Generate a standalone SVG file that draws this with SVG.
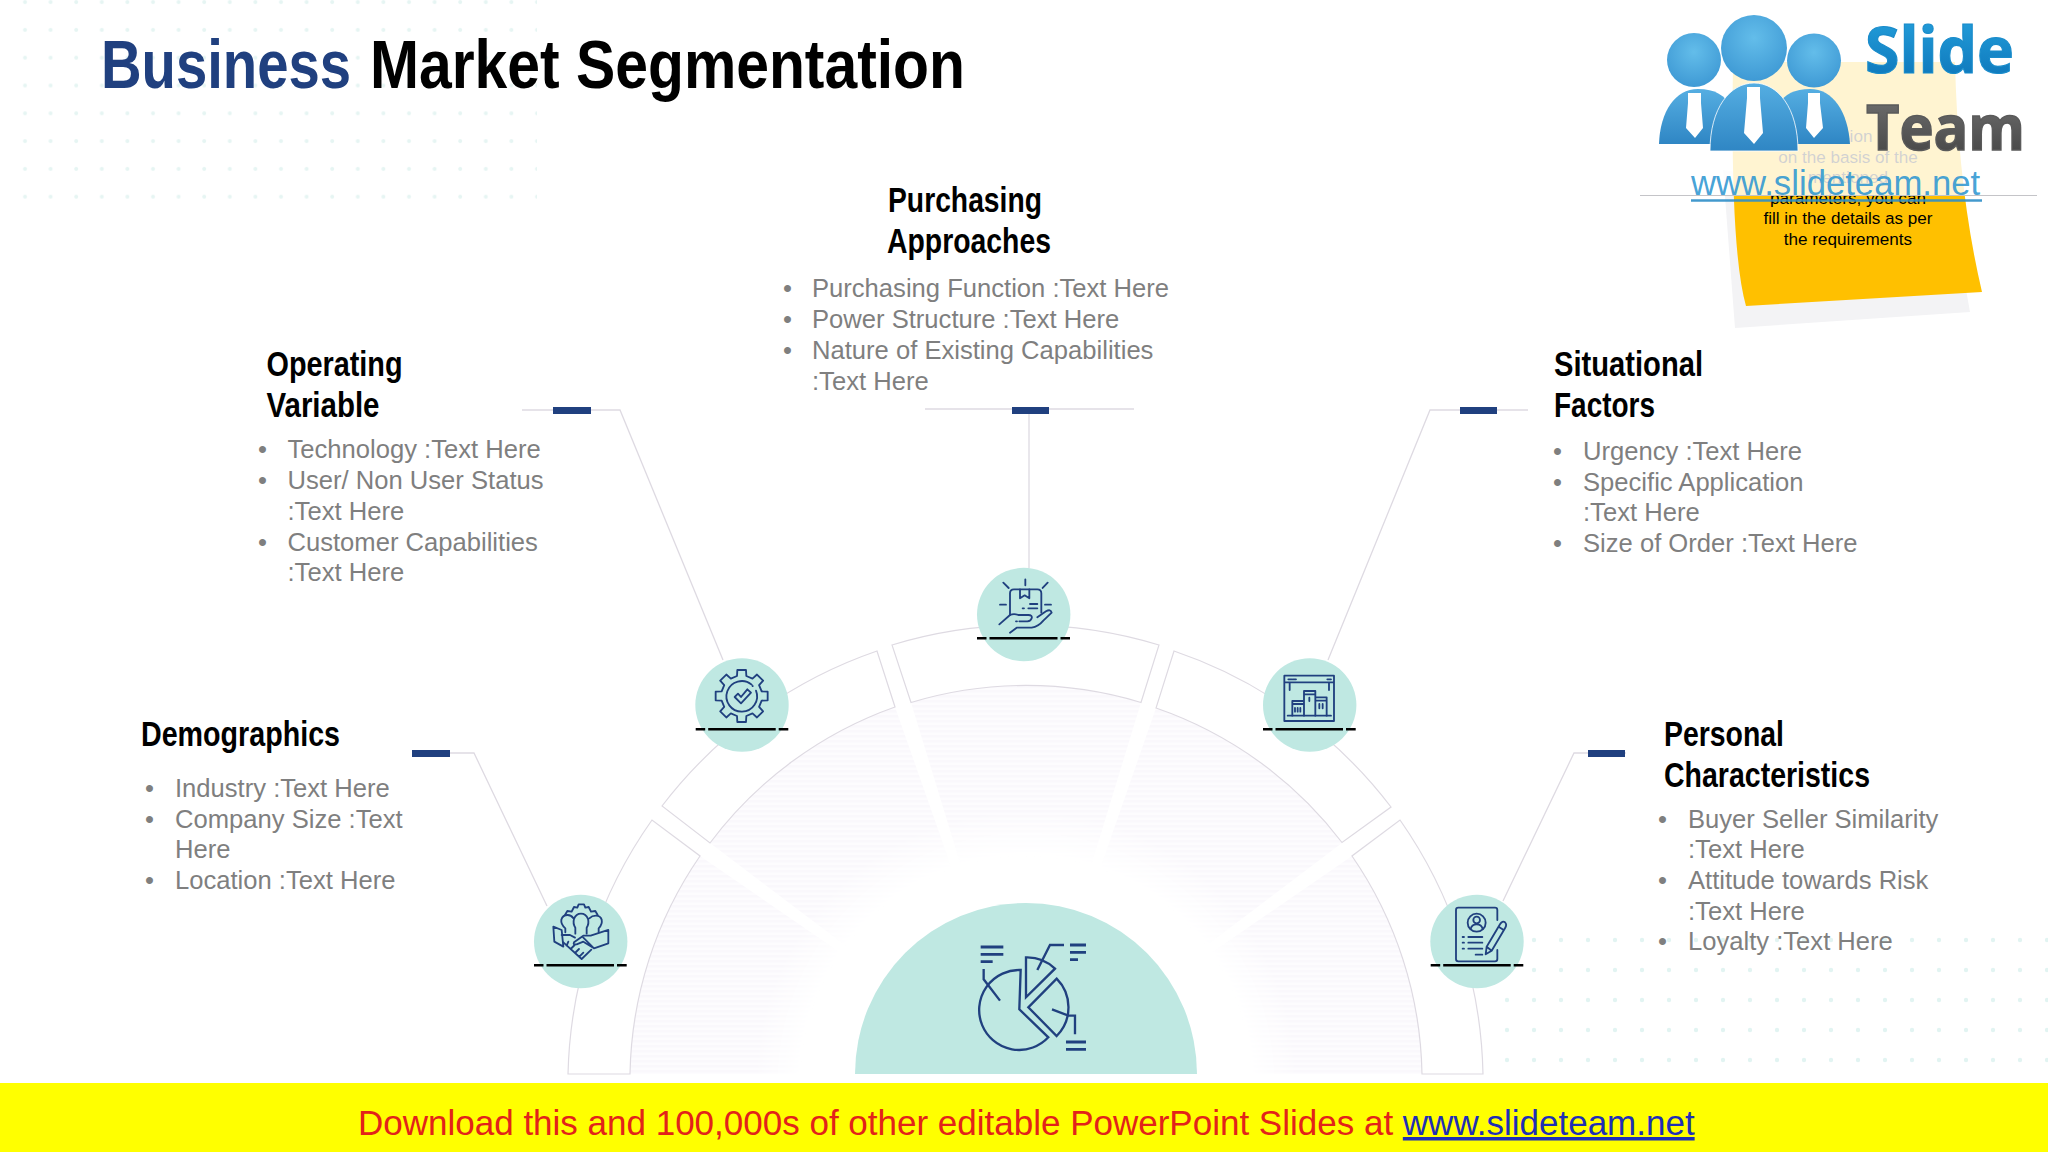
<svg xmlns="http://www.w3.org/2000/svg" width="2048" height="1152" viewBox="0 0 2048 1152">
<style>
.h{font-family:"Liberation Sans",Arial,sans-serif;font-weight:700;font-size:35px;fill:#000}
.b{font-family:"Liberation Sans",Arial,sans-serif;font-size:25.6px;fill:#7f7f7f}
.seg{fill:#fff;stroke:#dedae2;stroke-width:1.2}
.wedge{fill:url(#stripes)}
.conn{fill:none;stroke:#dedae2;stroke-width:1.3}
.bar{fill:#20407f}
.disc{fill:#bfe8e2}
.dash{stroke:#000;stroke-width:2.4;fill:none}
.ic{fill:none;stroke:#20407f;stroke-width:5.5;stroke-linecap:round;stroke-linejoin:round}
.ic2{fill:none;stroke:#20407f;stroke-width:7;stroke-linejoin:miter}
.ic3{fill:none;stroke:#20407f;stroke-width:8.5}
.note{font-family:"Liberation Sans",Arial,sans-serif;font-size:17.1px;fill:#000;text-anchor:middle}
.t{font-family:"Liberation Sans",Arial,sans-serif;font-weight:700;font-size:68px}
</style>
<defs>
<pattern id="dotsA" width="25.6" height="27.8" patternUnits="userSpaceOnUse" x="12" y="16"><circle cx="13" cy="14" r="2" fill="#e6f5f3"/></pattern>
<pattern id="dotsB" width="27" height="30" patternUnits="userSpaceOnUse" x="1520" y="925"><circle cx="14" cy="15" r="2.2" fill="#e2f4f2"/></pattern>
<pattern id="stripes" width="6" height="5" patternUnits="userSpaceOnUse"><rect width="6" height="5" fill="#fdfcfe"/><rect width="6" height="2.5" fill="#faf8fc"/></pattern>
<radialGradient id="fade" gradientUnits="userSpaceOnUse" cx="1026" cy="1081" r="400"><stop offset=".56" stop-color="#000"/><stop offset=".68" stop-color="#fff"/></radialGradient>
<mask id="fadeM" maskUnits="userSpaceOnUse" x="500" y="600" width="1050" height="500"><rect x="500" y="600" width="1050" height="500" fill="url(#fade)"/></mask>
<radialGradient id="ball" cx=".5" cy=".35" r=".7"><stop offset="0" stop-color="#63bdea"/><stop offset="1" stop-color="#3c97d3"/></radialGradient>
<linearGradient id="body" x1="0" y1="0" x2="0" y2="1"><stop offset="0" stop-color="#55aee2"/><stop offset="1" stop-color="#2f86c4"/></linearGradient>
<linearGradient id="slide" x1="0" y1="0" x2="0" y2="1"><stop offset="0" stop-color="#27a5e0"/><stop offset="1" stop-color="#0a70b5"/></linearGradient>
<linearGradient id="team" x1="0" y1="0" x2="0" y2="1"><stop offset="0" stop-color="#777"/><stop offset="1" stop-color="#3f3f3f"/></linearGradient>
</defs>
<rect width="2048" height="1152" fill="#fff"/>
<g id="background-dots">
<rect x="12" y="0" width="525" height="205" fill="url(#dotsA)"/>
<rect x="1520" y="925" width="528" height="150" fill="url(#dotsB)"/>
<rect x="1493" y="985" width="27" height="90" fill="url(#dotsB)"/>
</g>

<g id="title">
<text class="t" x="101" y="88" fill="#20407f" textLength="250" lengthAdjust="spacingAndGlyphs">Business</text>
<text class="t" x="370" y="88" fill="#000" textLength="595" lengthAdjust="spacingAndGlyphs">Market Segmentation</text>
</g>

<g id="hub-stripes" mask="url(#fadeM)">
<path class="wedge" d="M630 1074A396 396 0 0 1 700 856L841 953A225 225 0 0 0 801 1074Z"/>
<path class="wedge" d="M710 843A396 396 0 0 1 895 707L952 869A225 225 0 0 0 846 946Z"/>
<path class="wedge" d="M911 702.5A396 396 0 0 1 1141 702.5L1091 866A225 225 0 0 0 961 866Z"/>
<path class="wedge" d="M1156 708A396 396 0 0 1 1342 843L1206 946A225 225 0 0 0 1100 869Z"/>
<path class="wedge" d="M1352 856A396 396 0 0 1 1422 1074L1251 1074A225 225 0 0 0 1211 953Z"/>
</g>
<g id="ring">
<path class="seg" d="M568 1074A458 458 0 0 1 652 820L700 856A396 396 0 0 0 630 1074Z"/>
<path class="seg" d="M662 806A458 458 0 0 1 877 651L895 707A396 396 0 0 0 710 843Z"/>
<path class="seg" d="M892 645A458 458 0 0 1 1159 645L1141 702.5A396 396 0 0 0 911 702.5Z"/>
<path class="seg" d="M1174 651A458 458 0 0 1 1391 807L1342 842.5A396 396 0 0 0 1156 708Z"/>
<path class="seg" d="M1400 820A458 458 0 0 1 1483 1074L1422 1074A396 396 0 0 0 1352 856Z"/>
</g>

<g id="connectors">
<path class="conn" d="M522 410H620L723 660"/>
<path class="conn" d="M412 753H474L547 906"/>
<path class="conn" d="M925 409H1134M1029 409V568"/>
<path class="conn" d="M1528 410H1430L1328 660"/>
<path class="conn" d="M1626 753H1574L1503 901"/>
<rect class="bar" x="553" y="407" width="38" height="7"/>
<rect class="bar" x="412" y="750" width="38" height="7"/>
<rect class="bar" x="1012" y="407" width="37" height="7"/>
<rect class="bar" x="1460" y="407" width="37" height="7"/>
<rect class="bar" x="1588" y="750" width="37" height="7"/>
</g>

<g id="hub">
<path class="disc" d="M855 1074A171 171 0 0 1 1197 1074Z"/>
<g transform="translate(960 890) scale(.3333)">
<path class="ic3" d="M62 171H130M62 193H130M62 215H98M330 165H378M330 187H378M330 209H354M318 456H378M318 478H378"/>
<path class="ic2" d="M71 237V268L120 332M232 240L270 165H312M276 358L325 377H345V433"/>
<path class="ic2" d="M182 240A120 120 0 1 0 265 442L178 358Z"/>
<path class="ic2" d="M198 322V202A120 120 0 0 1 285 236Z"/>
<path class="ic2" d="M205 352L290 266A122 122 0 0 1 290 438Z"/>
</g>
</g>

<g id="node-demographics">
<circle class="disc" cx="580.7" cy="941.5" r="46.7"/>
<g transform="translate(520 885) scale(.3333)">
<path class="ic" d="M135 90L142 78L155 80L162 66L172 68L176 58H192L196 68L206 66L213 80L226 78L233 90"/>
<path class="ic" d="M136 142L136 130Q122 118 124 104Q128 90 143 90Q154 90 160 100M236 142V130Q248 118 245 104Q241 92 228 92Q216 92 208 100M166 146V128Q158 116 162 102Q168 86 183 86Q198 86 204 102Q208 116 200 128V146"/>
<path class="ic" d="M100 125L125 135L130 185L103 170ZM125 150H150L165 158M265 135V175L222 190L190 158M265 135L212 152H190L162 172Q158 180 170 178L190 170L222 190"/>
<path class="ic" d="M130 172L185 222L214 194M145 170L140 182M152 192L164 180M165 204L177 192M178 215L190 203"/>
</g>
<path class="dash" d="M534 965.3H626.7" stroke-dasharray="9.5 3 67.5 3 10"/>
</g>
<g id="node-operating">
<circle class="disc" cx="742" cy="705" r="46.7"/>
<g transform="translate(680 650) scale(.3333)">
<path class="ic" transform="translate(185 138)" d="M-14-60L-13-78H13L14-60L32.500-52.300L46-64.400L64.400-46L52.300-32.500L60-14L78-13V13L60 14L52.300 32.500L64.400 46L46 64.400L32.500 52.300L14 60L13 78H-13L-14 60L-32.500 52.300L-46 64.400L-64.400 46L-52.300 32.500L-60 14L-78 13V-13L-60-14L-52.300-32.500L-64.400-46L-46-64.400L-32.500-52.300Z"/>
<path class="ic" d="M215 104A46 46 0 1 0 228 122"/>
<path class="ic" d="M164 141L174 131L183 141L202 118L213 128L183 160Z"/>
<path class="ic" d="M218 108V108.500"/>
</g>
<path class="dash" d="M695.700 729.300H788.300" stroke-dasharray="9.500 3 67.500 3 10"/>
</g>
<g id="node-purchasing">
<circle class="disc" cx="1023.700" cy="614.500" r="46.700"/>
<g transform="translate(960 560) scale(.3333)">
<path class="ic" d="M150 165V100Q150 88 162 88H232Q244 88 244 100V158"/>
<path class="ic" d="M180 88V115L194 106L208 115V88M210 132H232M188 145H192M205 145H232"/>
<path class="ic" d="M130 68L146 84M196 58V76M263 68L248 84M120 134H138M255 134H273"/>
<path class="ic" d="M118 193L150 165Q162 160 175 165H205Q218 165 215 175Q212 185 200 184H178M168 184H171M150 218L170 203H215Q235 200 250 182L275 158Q272 146 258 154L232 172"/>
</g>
<path class="dash" d="M977 638.300H1070" stroke-dasharray="9.500 3 68 3 10"/>
</g>
<g id="node-situational">
<circle class="disc" cx="1309.700" cy="705" r="46.700"/>
<g transform="translate(1250 650) scale(.3333)">
<path class="ic" d="M103 77H252V213H103ZM103 97H252M115 88H125M128 88H138M232 88H243M119 97V120M237 97V120M113 197H243"/>
<path class="ic" d="M162 197V123H196V197M162 133H196M178 143V153M127 197V153H162M127 162H162M196 142H230V197M196 152H230"/>
<path class="ic" d="M135 174V185M143 174V185M151 174V185M208 162V175M218 162V175"/>
</g>
<path class="dash" d="M1263 729.300H1355.700" stroke-dasharray="9.500 3 67.500 3 10"/>
</g>
<g id="node-personal">
<circle class="disc" cx="1477" cy="941.500" r="46.700"/>
<g transform="translate(1420 885) scale(.3333)">
<path class="ic" d="M232 105V75Q232 68 225 68H115Q108 68 108 75V222Q108 229 115 229H225Q232 229 232 222V195"/>
<circle class="ic" cx="170" cy="113" r="27"/>
<circle class="ic" cx="170" cy="105" r="10"/>
<path class="ic" d="M152 132Q155 118 170 118Q185 118 188 132M128 156H132M145 156H187M128 173H132M145 173H187M128 191H132M145 191H187M167 209H187"/>
<path class="ic" d="M197 208L200 185L240 118Q247 106 255 112Q262 118 255 130L215 197ZM200 185L215 197M236 125L251 135"/>
</g>
<path class="dash" d="M1430.700 965.300H1523.300" stroke-dasharray="9.500 3 67.500 3 10"/>
</g>

<g id="text-purchasing">
<text class="h" x="888" y="211.500" textLength="154" lengthAdjust="spacingAndGlyphs">Purchasing</text>
<text class="h" x="887" y="252.500" textLength="164" lengthAdjust="spacingAndGlyphs">Approaches</text>
<text class="b"><tspan x="783" y="297">•</tspan><tspan x="812" y="297">Purchasing Function :Text Here</tspan><tspan x="783" y="328">•</tspan><tspan x="812" y="328">Power Structure :Text Here</tspan><tspan x="783" y="359">•</tspan><tspan x="812" y="359">Nature of Existing Capabilities</tspan><tspan x="812" y="390">:Text Here</tspan></text>
</g>
<g id="text-operating">
<text class="h" x="266.500" y="376" textLength="136" lengthAdjust="spacingAndGlyphs">Operating</text>
<text class="h" x="266.500" y="417" textLength="113" lengthAdjust="spacingAndGlyphs">Variable</text>
<text class="b"><tspan x="258" y="458">•</tspan><tspan x="287.500" y="458">Technology :Text Here</tspan><tspan x="258" y="489">•</tspan><tspan x="287.500" y="489">User/ Non User Status</tspan><tspan x="287.500" y="520">:Text Here</tspan><tspan x="258" y="551">•</tspan><tspan x="287.500" y="551">Customer Capabilities</tspan><tspan x="287.500" y="581">:Text Here</tspan></text>
</g>
<g id="text-situational">
<text class="h" x="1554" y="376" textLength="149" lengthAdjust="spacingAndGlyphs">Situational</text>
<text class="h" x="1554" y="417" textLength="101" lengthAdjust="spacingAndGlyphs">Factors</text>
<text class="b"><tspan x="1553" y="460">•</tspan><tspan x="1583" y="460">Urgency :Text Here</tspan><tspan x="1553" y="491">•</tspan><tspan x="1583" y="491">Specific Application</tspan><tspan x="1583" y="521">:Text Here</tspan><tspan x="1553" y="552">•</tspan><tspan x="1583" y="552">Size of Order :Text Here</tspan></text>
</g>
<g id="text-demographics">
<text class="h" x="141" y="746" textLength="199" lengthAdjust="spacingAndGlyphs">Demographics</text>
<text class="b"><tspan x="145" y="797">•</tspan><tspan x="175" y="797">Industry :Text Here</tspan><tspan x="145" y="828">•</tspan><tspan x="175" y="828">Company Size :Text</tspan><tspan x="175" y="858">Here</tspan><tspan x="145" y="889">•</tspan><tspan x="175" y="889">Location :Text Here</tspan></text>
</g>
<g id="text-personal">
<text class="h" x="1664" y="746" textLength="120" lengthAdjust="spacingAndGlyphs">Personal</text>
<text class="h" x="1664" y="787" textLength="206" lengthAdjust="spacingAndGlyphs">Characteristics</text>
<text class="b"><tspan x="1658" y="828">•</tspan><tspan x="1688" y="828">Buyer Seller Similarity</tspan><tspan x="1688" y="858">:Text Here</tspan><tspan x="1658" y="889">•</tspan><tspan x="1688" y="889">Attitude towards Risk</tspan><tspan x="1688" y="920">:Text Here</tspan><tspan x="1658" y="950">•</tspan><tspan x="1688" y="950">Loyalty :Text Here</tspan></text>
</g>

<g id="sticky-note">
<path d="M1723 170L1735 328L1970 312L1950 200Z" fill="#f3f3f5"/>
<path d="M1733 62H1955Q1958 190 1982 292L1746 306Q1730 250 1733 62Z" fill="#ffc000"/>
<text class="note"><tspan x="1861" y="142">ion</tspan><tspan x="1848" y="163">on the basis of the</tspan><tspan x="1848" y="183">mentioned</tspan><tspan x="1848" y="204">parameters, you can</tspan><tspan x="1848" y="224">fill in the details as per</tspan><tspan x="1848" y="245">the requirements</tspan></text>
</g>
<g id="logo">
<rect x="1640" y="0" width="397" height="195" fill="#fff" opacity=".82"/>
<path d="M1640 195.500H2037" stroke="#c4c4c8" stroke-width="1"/>
<circle cx="1694" cy="60" r="27" fill="url(#ball)"/>
<circle cx="1814" cy="60.500" r="27" fill="url(#ball)"/>
<path d="M1659 144C1660 112 1675 89 1698 89C1715 89 1725 95 1732 108L1732 144Z" fill="url(#body)"/>
<path d="M1850 144C1848 112 1833 89 1810 89C1793 89 1783 95 1776 108L1776 144Z" fill="url(#body)"/>
<circle cx="1754" cy="48" r="33" fill="url(#ball)"/>
<path d="M1710 151C1710 108 1730 83 1754 83C1778 83 1798 108 1798 151Z" fill="url(#body)" stroke="#fff" stroke-width=".8"/>
<path d="M1747 87H1760V98L1763 133L1754 144L1744 133L1747 98Z" fill="#fff"/>
<path d="M1688 93H1701V103L1703 128L1695 138L1686 128L1688 103Z" fill="#fff"/>
<path d="M1808 93H1820V103L1823 128L1814 138L1806 128L1808 103Z" fill="#fff"/>
<text x="1865" y="73" font-family="'Open Sans','Liberation Sans',sans-serif" font-weight="700" font-size="64" fill="url(#slide)" stroke="#1a8ccb" stroke-width="1.200" textLength="149" lengthAdjust="spacingAndGlyphs">Slide</text>
<text x="1866" y="150" font-family="'Open Sans','Liberation Sans',sans-serif" font-weight="700" font-size="63" fill="url(#team)" stroke="#5a5a5a" stroke-width="1.500" textLength="159" lengthAdjust="spacingAndGlyphs">Team</text>
<text x="1691" y="195" font-family="'Liberation Sans',Arial,sans-serif" font-size="34.700" fill="#2f97d2" fill-opacity=".9">www.slideteam.net</text>
<path d="M1691 200.500H1982" stroke="#2f8fc8" stroke-width="2.500" opacity=".9"/>
</g>

<g id="footer">
<rect x="0" y="1083" width="2048" height="69" fill="#ff0"/>
<text x="358" y="1135" font-family="'Liberation Sans',Arial,sans-serif" font-size="35" fill="#e2231a">Download this and 100,000s of other editable PowerPoint Slides at <tspan fill="#1f2fb5" text-decoration="underline">www.slideteam.net</tspan></text>
</g>
</svg>
